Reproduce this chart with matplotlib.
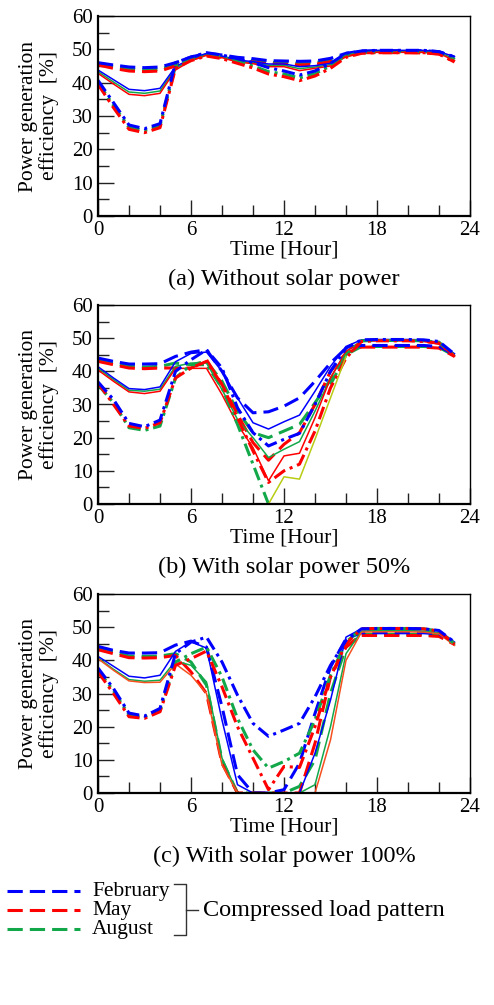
import numpy as np
import matplotlib
matplotlib.use("Agg")
import matplotlib.pyplot as plt
from matplotlib.lines import Line2D
from matplotlib.ticker import MultipleLocator

plt.rcParams["font.family"] = ["Liberation Serif", "DejaVu Serif"]

nan = np.nan
hours = np.arange(24)

# (a) without solar power
a_feb_dash = [46.0, 45.3, 44.7, 44.5, 44.7, 46.0, 47.7, 48.8, 48.3, 47.6, 47.2, 46.6,
              46.5, 46.4, 46.5, 47.3, 48.8, 49.5, 49.6, 49.6, 49.6, 49.6, 49.3, 47.7]
a_may_dash = [45.3, 44.3, 43.5, 43.3, 43.5, 45.0, 47.0, 48.2, 47.6, 46.8, 46.2, 45.6,
              45.5, 45.3, 45.5, 46.3, 48.0, 49.0, 49.0, 49.0, 49.0, 48.9, 48.6, 46.2]
a_aug_dash = [45.6, 44.8, 44.0, 43.8, 44.0, 45.5, 47.3, 48.5, 48.0, 47.2, 46.7, 46.1,
              46.0, 45.8, 46.0, 46.8, 48.4, 49.2, 49.3, 49.3, 49.3, 49.2, 49.0, 47.0]
a_feb_solid = [43.8, 40.9, 38.0, 37.6, 38.3, 44.8, 47.2, 48.8, 48.0, 46.8, 46.3, 45.6,
               45.6, 44.8, 45.1, 45.8, 48.8, 49.5, 49.7, 49.7, 49.7, 49.7, 49.3, 47.8]
a_may_solid = [42.8, 39.6, 36.5, 36.1, 36.8, 43.8, 46.6, 48.2, 47.5, 46.2, 45.7, 44.8,
               44.8, 43.6, 44.3, 45.0, 47.8, 49.0, 49.1, 49.1, 49.1, 49.1, 48.8, 46.6]
a_aug_solid = [43.3, 40.2, 37.2, 36.8, 37.5, 44.3, 46.9, 48.5, 47.8, 46.5, 46.0, 45.2,
               45.2, 44.2, 44.7, 45.4, 48.3, 49.3, 49.4, 49.4, 49.4, 49.4, 49.0, 47.2]
a_feb_dashdot = [40.7, 34.0, 27.3, 26.2, 27.7, 46.0, 47.7, 49.0, 48.3, 47.2, 46.0, 44.5,
                 43.5, 42.3, 43.5, 45.8, 48.8, 49.5, 49.7, 49.7, 49.7, 49.7, 49.3, 47.7]
a_may_dashdot = [39.5, 32.5, 26.0, 25.0, 26.5, 44.3, 46.6, 48.0, 47.2, 45.8, 44.4, 42.6,
                 41.8, 40.6, 42.0, 44.3, 47.6, 48.8, 49.0, 49.0, 49.0, 49.0, 48.6, 46.2]
a_aug_dashdot = [40.0, 33.2, 26.6, 25.6, 27.1, 45.0, 47.0, 48.4, 47.7, 46.4, 45.0, 43.3,
                 42.6, 41.4, 42.7, 45.0, 48.2, 49.1, 49.3, 49.3, 49.3, 49.3, 49.0, 46.9]

# (b) with solar power 50%
b_feb_dash = [44.0, 43.0, 42.2, 42.2, 42.3, 44.5, 45.8, 46.5, 40.0, 32.0, 27.5, 27.8,
              29.5, 32.0, 37.0, 42.5, 47.0, 47.8, 47.8, 47.8, 47.8, 47.8, 47.5, 45.0]
b_may_dash = [43.0, 42.0, 41.0, 40.8, 41.0, 41.0, 41.0, 43.5, 36.0, 27.0, 18.5, 13.2,
              18.0, 21.5, 30.0, 40.0, 45.5, 47.3, 47.3, 47.3, 47.3, 47.3, 47.0, 44.5]
b_aug_dash = [43.5, 42.5, 41.5, 41.3, 41.5, 42.5, 42.0, 43.0, 37.0, 28.0, 21.5, 20.0,
              22.0, 24.0, 30.5, 37.5, 45.0, 47.5, 47.5, 47.5, 47.5, 47.5, 47.2, 44.7]
b_feb_solid = [41.4, 38.0, 34.8, 34.5, 35.3, 42.9, 45.4, 45.8, 40.0, 32.0, 24.5, 22.6,
               24.8, 26.8, 34.0, 41.5, 47.5, 49.5, 49.6, 49.6, 49.6, 49.5, 48.7, 45.3]
b_may_solid = [40.4, 37.0, 33.8, 33.3, 34.0, 40.9, 40.9, 40.9, 33.0, 24.0, 17.0, 7.0,
               14.5, 15.3, 26.0, 38.0, 46.0, 49.0, 49.2, 49.2, 49.2, 49.0, 48.2, 44.5]
b_aug_solid = [40.9, 37.5, 34.3, 34.0, 34.6, 41.5, 42.5, 42.5, 34.5, 25.5, 20.0, 14.0,
               16.5, 18.8, 28.0, 38.0, 46.0, 49.2, 49.3, 49.3, 49.3, 49.2, 48.5, 44.8]
b_feb_dashdot = [36.8, 31.5, 24.3, 23.3, 25.3, 40.0, 43.5, 46.5, 41.0, 29.0, 21.5, 17.5,
                 19.5, 21.3, 30.0, 40.0, 47.0, 49.5, 49.6, 49.6, 49.6, 49.5, 49.0, 45.2]
b_may_dashdot = [36.5, 30.0, 23.5, 22.8, 24.5, 38.0, 41.0, 43.0, 36.0, 26.0, 16.0, 6.5,
                 10.0, 12.0, 22.0, 35.0, 44.0, 49.0, 49.2, 49.2, 49.2, 49.0, 48.5, 44.5]
b_aug_dashdot = [36.0, 30.5, 23.0, 22.2, 23.5, 38.0, 42.0, 42.0, 35.0, 24.0, 12.0, 0.0,
                 nan, nan, nan, 36.0, 45.0, 49.2, 49.3, 49.3, 49.3, 49.2, 48.8, 44.7]
b_extra_hours = [11, 12, 13, 14, 15, 16]
b_extra = [0.0, 8.2, 7.5, 19.5, 32.0, 44.5]

# (c) with solar power 100%
c_feb_dash = [44.2, 43.0, 42.2, 42.2, 42.3, 44.6, 45.8, 44.0, 26.0, 5.5, 0.0, 0.0,
              1.0, 9.0, 24.0, 38.0, 46.5, 48.3, 48.3, 48.3, 48.3, 48.3, 48.0, 45.5]
c_may_dash = [43.2, 42.0, 40.8, 40.7, 40.8, 41.5, 36.5, 30.0, 9.0, 0.0, 0.0, 0.0,
              0.0, 0.0, 15.0, 35.0, 44.0, 47.5, 47.5, 47.5, 47.5, 47.5, 47.2, 44.8]
c_aug_dash = [43.7, 42.5, 41.3, 41.2, 41.3, 42.0, 39.5, 32.5, 10.0, 0.0, 0.0, 0.0,
              0.0, 2.0, 10.0, 30.0, 44.0, 47.8, 47.8, 47.8, 47.8, 47.8, 47.5, 45.0]
c_feb_solid = [41.2, 38.2, 35.2, 34.7, 35.5, 42.7, 45.6, 43.7, 22.0, 2.5, 0.0, 0.0,
               0.0, 0.0, 12.0, 28.0, 47.0, 49.5, 49.6, 49.6, 49.6, 49.5, 49.0, 45.5]
c_may_solid = [40.5, 37.0, 33.8, 33.3, 33.4, 38.9, 35.5, 30.0, 8.5, 0.0, 0.0, 0.0,
               0.0, 0.0, 0.0, 16.0, 40.0, 48.5, 48.6, 48.6, 48.6, 48.5, 48.0, 44.5]
c_aug_solid = [40.7, 37.3, 34.2, 33.7, 34.0, 39.8, 38.5, 33.5, 10.5, 0.0, 0.0, 0.0,
               0.0, 0.0, 2.5, 20.0, 42.0, 48.8, 49.0, 49.0, 49.0, 48.8, 48.3, 44.8]
c_feb_dashdot = [37.7, 31.5, 24.1, 23.2, 25.5, 42.0, 45.5, 47.0, 39.5, 29.5, 21.0, 17.1,
                 19.0, 21.0, 29.0, 38.5, 46.0, 49.5, 49.6, 49.6, 49.6, 49.5, 49.0, 45.5]
c_may_dashdot = [36.5, 30.0, 23.0, 22.5, 24.5, 38.5, 40.5, 42.8, 32.0, 20.0, 10.5, 1.0,
                 8.0, 7.7, 20.0, 35.0, 45.0, 49.5, 49.6, 49.6, 49.6, 49.5, 48.8, 44.8]
c_aug_dashdot = [37.0, 30.8, 23.5, 23.0, 24.8, 39.5, 42.0, 44.0, 35.0, 22.5, 13.0, 7.5,
                 9.5, 12.0, 22.0, 35.5, 45.5, 49.5, 49.6, 49.6, 49.6, 49.5, 48.8, 45.0]

months = ["February", "May", "August"]
captions = ["(a) Without solar power", "(b) With solar power 50%",
            "(c) With solar power 100%"]

BLUE = "#0000ff"
RED = "#ff0000"
GREEN = "#12a84a"
ORANGE = "#f5501e"
YELLOW = "#b8cc14"

STYLES = {
    "dash": dict(lw=2.2, dashes=(5.0, 2.3)),
    "solid": dict(lw=1.1, linestyle="-"),
    "dashdot": dict(lw=2.2, dashes=(4.3, 1.6, 1.0, 1.6)),
}

panels = [
    {
        "dash": [a_feb_dash, a_may_dash, a_aug_dash],
        "solid": [a_feb_solid, a_may_solid, a_aug_solid],
        "dashdot": [a_feb_dashdot, a_may_dashdot, a_aug_dashdot],
    },
    {
        "dash": [b_feb_dash, b_may_dash, b_aug_dash],
        "solid": [b_feb_solid, b_may_solid, b_aug_solid],
        "dashdot": [b_feb_dashdot, b_may_dashdot, b_aug_dashdot],
    },
    {
        "dash": [c_feb_dash, c_may_dash, c_aug_dash],
        "solid": [c_feb_solid, c_may_solid, c_aug_solid],
        "dashdot": [c_feb_dashdot, c_may_dashdot, c_aug_dashdot],
    },
]

W, H = 494, 1005
fig = plt.figure(figsize=(W / 100, H / 100), dpi=100)

# axes boxes in pixels: left, top, right, bottom
boxes = [(98, 16, 470, 216), (98, 305, 470, 504), (98, 594, 470, 793)]


def px_rect(box):
    x0, y0, x1, y1 = box
    return [x0 / W, 1 - y1 / H, (x1 - x0) / W, (y1 - y0) / H]


for i, (box, series) in enumerate(zip(boxes, panels)):
    ax = fig.add_axes(px_rect(box))
    colors = [BLUE, RED if i < 2 else ORANGE, GREEN]
    for style in ["dash", "solid", "dashdot"]:
        for j in [2, 1, 0]:
            c = colors[j]
            if style != "solid" and j == 1:
                c = RED
            ax.plot(hours, series[style][j], color=c, **STYLES[style])
    if i == 1:
        ax.plot(b_extra_hours, b_extra, color=YELLOW, lw=1.1)

    ax.set_xlim(0, 24)
    ax.set_ylim(0, 60)
    ax.xaxis.set_major_locator(MultipleLocator(6))
    ax.xaxis.set_minor_locator(MultipleLocator(2))
    ax.yaxis.set_major_locator(MultipleLocator(10))
    ax.yaxis.set_minor_locator(MultipleLocator(5))
    ax.tick_params(which="both", direction="in", top=False, right=False,
                   labelsize=15, width=1.0, color="#222222")
    ax.tick_params(which="major", length=11.5)
    ax.tick_params(which="minor", length=8)
    ax.tick_params(axis="x", pad=3.5)
    ax.tick_params(axis="y", pad=4)
    for side in ["left", "bottom"]:
        ax.spines[side].set_linewidth(1.6)
    for side in ["top", "right"]:
        ax.spines[side].set_linewidth(1.0)

    ax.set_ylabel("Power generation\nefficiency  [%]", fontsize=15.5, linespacing=1.05)
    ax.yaxis.set_label_coords(-0.105, 0.5)
    ax.set_xlabel("Time [Hour]", fontsize=15.5, va="top")
    ax.xaxis.set_label_coords(0.5, -0.125)
    ax.text(0.5, -0.345, captions[i], transform=ax.transAxes, ha="center",
            va="baseline", fontsize=17.5)

# legend with bracket
leg_y = [891, 910, 929]
for y, c, name in zip(leg_y, [BLUE, RED, GREEN], months):
    fig.add_artist(Line2D([7 / W, 80 / W], [1 - y / H, 1 - y / H], color=c,
                          **STYLES["dash"]))
    fig.text(92 / W, 1 - y / H, name, ha="left", va="center", fontsize=15.5)

bx0, bx1, bx2 = 174 / W, 186 / W, 198 / W
by0, by1, bym = 1 - 884 / H, 1 - 935 / H, 1 - 910 / H
kw = dict(color="#333333", lw=1.0)
fig.add_artist(Line2D([bx0, bx1, bx1, bx0], [by0, by0, by1, by1], **kw))
fig.add_artist(Line2D([bx1, bx2], [bym, bym], **kw))
fig.text(203 / W, bym, "Compressed load pattern", ha="left", va="center", fontsize=17.5)

fig.savefig("out.png", dpi=100)
